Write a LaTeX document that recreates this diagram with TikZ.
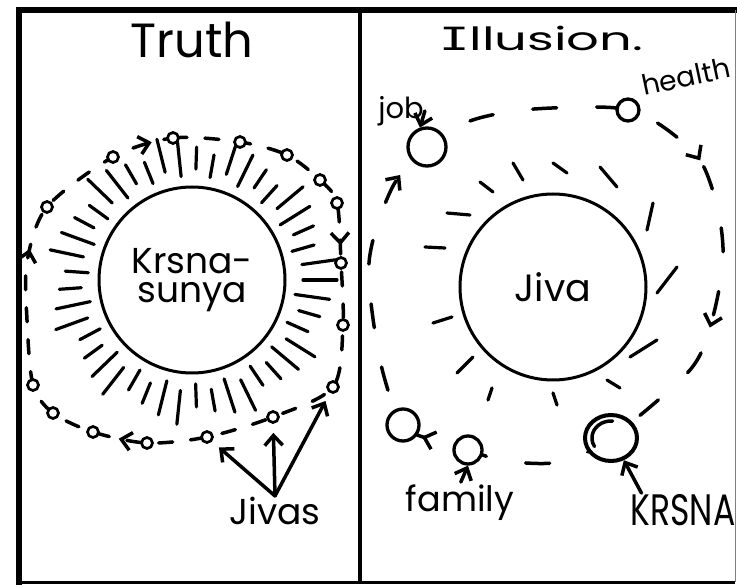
\documentclass[tikz,border=0pt]{standalone}
\usepackage{fontspec}
\setmainfont{Poppins}
\newfontfamily\barfont{DejaVu Sans Mono}
\usetikzlibrary{arrows.meta,shapes.geometric,decorations.markings}
\tikzset{
  pen/.style={line width=3.5pt,line cap=round,line join=round},
  hand/.style={font=\fontsize{#1}{#1}\selectfont,inner sep=1pt},
  jiva/.style={circle,draw,fill=white,inner sep=0pt,minimum size=11pt,line width=2.7pt},
  ball/.style={circle,draw,fill=white,inner sep=0pt,line width=3.3pt},
  sun/.style={circle,draw,inner sep=0pt,minimum size=186pt,line width=3pt,align=center},
  ray/.style={pen,line width=3.2pt},
  tip/.style={postaction={decorate,decoration={markings,mark=at position #1 with {\arrow{>}}}}},
}
\begin{document}
\begin{tikzpicture}[x=1pt,y=-1pt,>={Straight Barb[length=10pt,width=18pt]}]
\useasboundingbox (0,0) rectangle (737,585);
% frame
\draw[line width=6pt] (19,585) -- (19,10) -- (737,10);
\draw[line width=3pt] (19,582) -- (735,582);
\draw[line width=3.5pt] (360,10) -- (360,582);
\draw[gray,line width=1pt] (735,10) -- (735,582);

% ---- Truth ----
\node[hand=48] (truth) at (192,40) {Truth};
\node[sun,font=\fontsize{36}{29}\selectfont] (ksun) at (192,280) {Krsna-\\sunya};
\begin{scope}[shift={(ksun.center)}]
  \foreach \a [count=\i] in {0,8,...,352}
    \draw[ray] (\a:{104+7*mod(\i,2)}) -- (\a:{127+6*mod(3*\i,4)});
\end{scope}
% the plot starts at its second point
\draw[pen,dash pattern=on 14pt off 18pt,tip=0.222,tip=0.579,tip=0.814,tip=0.979]
  plot[smooth cycle] coordinates {(113,157) (173,138) (240,142) (287,155) (320,180)
    (337,203) (341,263) (343,325) (333,387) (273,417) (207,437) (147,443) (93,432)
    (53,413) (33,385) (27,320) (27,262) (47,207)};
\foreach \x/\y [count=\i] in {113/157,173/138,240/142,287/155,320/180,337/203,341/263,
    343/325,333/387,273/417,207/437,147/443,93/432,53/413,33/385,47/207}
  \node[jiva] (j\i) at (\x,\y) {};
\node[hand=36] (jivas) at (275,511) {Jivas};
\foreach \k in {9,10,11}
  \draw[pen,->,shorten >=9pt] (jivas.north) -- (j\k);

% ---- Illusion ----
\node[hand=32] (illusion) at (541,38) {\scalebox{1.6}[1]{{\barfont I}llusion.}};
\node[sun,font=\fontsize{38}{38}\selectfont] (jv) at (553,287) {Jiva};
\foreach \a/\b/\c/\d in {480/182/493/192, 513/163/523/180, 553/163/567/173,
    600/167/617/187, 653/203/647/230, 677/267/657/293, 447/213/470/215,
    425/247/445/248, 433/323/452/317, 457/373/473/357, 492/388/488/400,
    553/393/557/405, 607/380/620/388, 630/357/657/340}
  \draw[ray] (\a,\b) -- (\c,\d);
\draw[pen,dash pattern=on 24pt off 40pt,tip=0.2175,tip=0.368,tip=0.674,tip=0.922]
  plot[smooth cycle] coordinates {(427,147) (470,121) (523,110) (590,107) (628,110)
    (662,126) (700,160) (718,210) (723,260) (712,320) (690,370) (611,438) (560,462)
    (505,461) (468,450) (440,442) (403,425) (380,360) (369,263) (392,188)};
\node[ball,minimum size=38pt] (job) at (427,147) {};
\node[ball,minimum size=22pt] (health) at (628,110) {};
\node[ball,ellipse,minimum width=52pt,minimum height=46pt,line width=4pt] (kc) at (611,438) {};
\draw[pen] ([shift={(-16.5,8.5)}]kc.center) arc[start angle=150,end angle=275,x radius=19,y radius=17];
\node[ball,minimum size=28pt] (family) at (468,450) {};
\node[ball,minimum size=32pt] (lc) at (403,425) {};
\node[hand=29] (joblbl) at (401,111) {job};
\draw[pen,->] (joblbl.east) -- (job.110);
\node[hand=28,rotate=12,anchor=west] (healthlbl) at (641,86) {health};
\node[hand=35] (famlbl) at (460,503) {family};
\draw[pen,->,shorten <=2pt] (famlbl.north) -- (family.south);
\node[hand=44] (krlbl) at (683,510) {\scalebox{0.75}[1]{KRSNA}};
\draw[pen,->] ([xshift=12pt]krlbl.north west) -- (kc.-60);
\end{tikzpicture}
\end{document}
